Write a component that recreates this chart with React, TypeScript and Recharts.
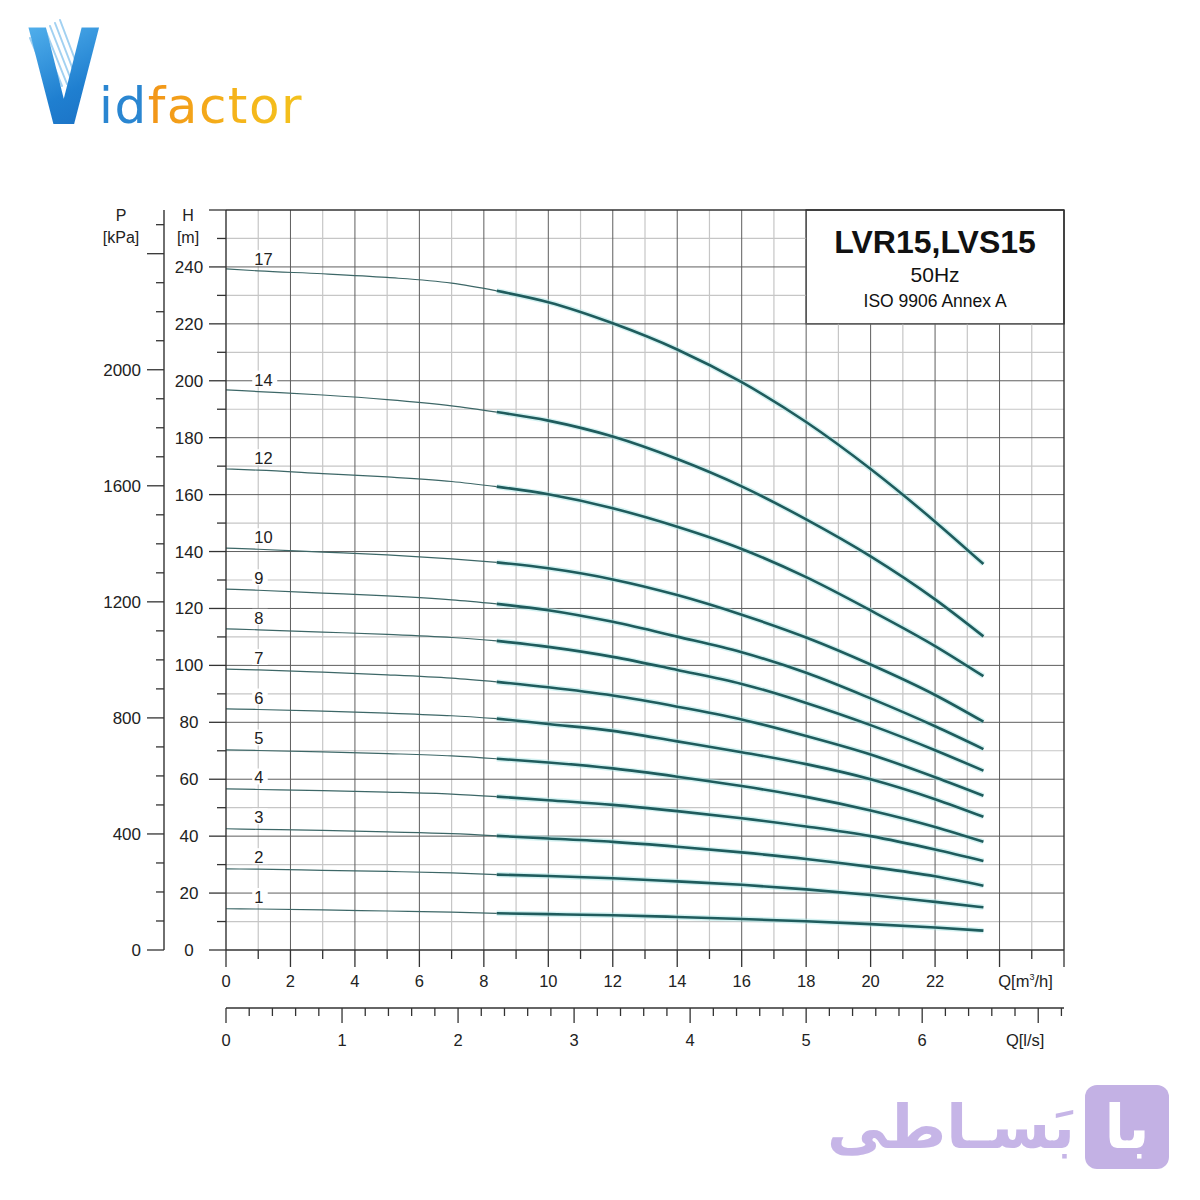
import { LineChart, Line, XAxis, YAxis, ReferenceLine, ReferenceArea } from "recharts"

const qPoints = [0, 1, 3, 5, 7, 8.4, 10, 12, 14, 16, 18, 20, 22, 23.5]
const thinEnd = 5 // index of Q=8.4, where the thick part starts

// head (m) per stage count
const h17 = [239.3, 238.6, 237.6, 236.3, 234.3, 231.6, 227.6, 220.2, 211.0, 199.5, 185.5, 169.0, 150.5, 135.6]
const h14 = [196.8, 196.2, 195.0, 193.4, 191.2, 189.0, 186.0, 180.4, 172.5, 162.9, 151.3, 138.3, 123.2, 110.2]
const h12 = [169.0, 168.6, 167.4, 166.2, 164.6, 162.8, 160.1, 155.2, 148.7, 140.9, 131.0, 119.3, 106.8, 96.2]
const h10 = [141.2, 140.8, 139.8, 138.8, 137.4, 136.2, 134.1, 130.2, 124.7, 117.8, 109.8, 100.3, 89.6, 80.2]
const h9 = [126.8, 126.4, 125.4, 124.4, 123.0, 121.6, 119.4, 115.3, 110.1, 104.6, 97.4, 88.4, 78.6, 70.6]
const h8 = [112.8, 112.5, 111.7, 110.9, 109.8, 108.6, 106.5, 103.0, 98.4, 93.5, 86.8, 79.0, 70.2, 63.0]
const h7 = [98.7, 98.4, 97.6, 96.7, 95.5, 94.2, 92.3, 89.4, 85.5, 81.0, 75.2, 68.7, 60.7, 54.2]
const h6 = [84.7, 84.5, 83.9, 83.2, 82.3, 81.3, 79.4, 77.0, 73.3, 69.5, 65.3, 60.0, 53.0, 46.8]
const h5 = [70.3, 70.1, 69.6, 69.0, 68.2, 67.2, 65.9, 63.8, 60.9, 57.6, 53.8, 49.0, 43.2, 38.0]
const h4 = [56.6, 56.4, 56.0, 55.5, 54.8, 53.9, 52.6, 51.0, 48.8, 46.3, 43.4, 40.0, 35.3, 31.3]
const h3 = [42.6, 42.4, 42.0, 41.5, 40.9, 40.1, 39.2, 38.0, 36.3, 34.3, 32.0, 29.2, 25.9, 22.6]
const h2 = [28.5, 28.4, 28.0, 27.6, 27.1, 26.5, 26.0, 25.2, 24.1, 22.9, 21.3, 19.3, 16.9, 15.0]
const h1 = [14.5, 14.4, 14.1, 13.7, 13.3, 12.9, 12.6, 12.2, 11.6, 10.9, 10.1, 9.1, 7.9, 6.8]

const stageNames = ["17", "14", "12", "10", "9", "8", "7", "6", "5", "4", "3", "2", "1"]
const stageHeads = [h17, h14, h12, h10, h9, h8, h7, h6, h5, h4, h3, h2, h1]

// axis ticks
const hTicks = Array.from({ length: 27 }, (_, i) => i * 10)
const pTicks = Array.from({ length: 26 }, (_, i) => i * 100)
const qTicks = Array.from({ length: 27 }, (_, i) => i)
const lsTicks = Array.from({ length: 37 }, (_, i) => Math.round(i * 2) / 10)
const hMax = 260
const qMax = 26
const kPaPerM = 9.81
const m3hPerLs = 3.6
const boxQ = 18
const boxH = 220

const FONT = "'Liberation Sans', Arial, Helvetica, sans-serif"
const INK = "#222"
const AXIS = "#333"
const GRID_DARK = "#5e5e5e"
const GRID_LIGHT = "#c6c6c6"
const CURVE = "#1f5c5d"

const series = stageNames.map((name, s) => {
  const pts = qPoints.map((q, i) => ({ q, h: stageHeads[s][i] }))
  return { name, thin: pts.slice(0, thinEnd + 1), thick: pts.slice(thinEnd) }
})

// the top curve in l/s and kPa, bound to the secondary axes so they get their ticks
const secondary = qPoints.map((q, i) => ({ ls: q / m3hPerLs, p: h17[i] * kPaPerM }))

function HTick(props: any) {
  const { x, y, payload } = props
  const v = payload.value
  const major = v % 20 === 0
  return (
    <g>
      <line x1={x - (major ? 17 : 9)} x2={x} y1={y} y2={y} stroke={AXIS} strokeWidth={1.3} />
      {major && v <= 240 && (
        <text x={x - 37} y={y + 6} textAnchor="middle" fontSize={17} fill={INK} fontFamily={FONT}>
          {v}
        </text>
      )}
    </g>
  )
}

function PTick(props: any) {
  const { x, y, payload } = props
  const v = payload.value
  const major = v % 400 === 0
  return (
    <g>
      <line x1={x - (major ? 17 : 8)} x2={x} y1={y} y2={y} stroke={AXIS} strokeWidth={1.3} />
      {major && v <= 2000 && (
        <text x={x - 23} y={y + 6} textAnchor="end" fontSize={17} fill={INK} fontFamily={FONT}>
          {v}
        </text>
      )}
    </g>
  )
}

function QTick(props: any) {
  const { x, y, payload } = props
  const v = payload.value
  const major = v % 2 === 0
  return (
    <g>
      <line x1={x} x2={x} y1={y} y2={y + (major ? 17 : 9)} stroke={AXIS} strokeWidth={1.3} />
      {major && v <= 22 && (
        <text x={x} y={y + 37} textAnchor="middle" fontSize={16.5} fill={INK} fontFamily={FONT}>
          {v}
        </text>
      )}
      {v === 24 && (
        <text x={x + 26} y={y + 37} textAnchor="middle" fontSize={16.5} fill={INK} fontFamily={FONT}>
          <tspan>Q[m</tspan>
          <tspan dy={-7} fontSize={9}>3</tspan>
          <tspan dy={7}>/h]</tspan>
        </text>
      )}
    </g>
  )
}

function LsTick(props: any) {
  const { x, y, payload } = props
  const v = payload.value
  const major = Math.abs(v - Math.round(v)) < 1e-6
  return (
    <g>
      <line x1={x} x2={x} y1={y} y2={y + (major ? 15 : 8)} stroke={AXIS} strokeWidth={1.3} />
      {major && v <= 6 && (
        <text x={x} y={y + 38} textAnchor="middle" fontSize={16.5} fill={INK} fontFamily={FONT}>
          {v}
        </text>
      )}
      {major && v === 7 && (
        <text x={x - 13} y={y + 38} textAnchor="middle" fontSize={16.5} fill={INK} fontFamily={FONT}>
          Q[l/s]
        </text>
      )}
    </g>
  )
}

function StageLabel({ cx, cy, text }: { cx: number; cy: number; text: string }) {
  const w = text.length * 9.5 + 6
  return (
    <g>
      <rect x={cx - 6} y={cy - 21} width={w} height={16} fill="#fff" />
      <text x={cx - 4} y={cy - 6} fontSize={16.5} fill={INK} fontFamily={FONT}>
        {text}
      </text>
    </g>
  )
}

function BoxText(props: any) {
  const vb = props.viewBox || {}
  const cx = vb.x + vb.width / 2
  const top = vb.y
  return (
    <g fontFamily={FONT} fill="#111" textAnchor="middle">
      <text x={cx} y={top + 43} fontSize={32} fontWeight="bold">LVR15,LVS15</text>
      <text x={cx} y={top + 72} fontSize={21}>50Hz</text>
      <text x={cx} y={top + 97} fontSize={17.5}>ISO 9906 Annex A</text>
    </g>
  )
}

function Logo() {
  const rays = [0, 1, 2, 3, 4, 5, 6]
  return (
    <div style={{ position: "absolute", left: 0, top: 0, width: 320, height: 140 }}>
      <svg width={320} height={140} style={{ position: "absolute", left: 0, top: 0 }}>
        {rays.map((i) => (
          <line
            key={i}
            x1={30 + i * 5}
            y1={38 - i * 3}
            x2={52 + i * 5}
            y2={90 - i * 2}
            stroke="#8cc6ee"
            strokeWidth={2}
            strokeLinecap="round"
            opacity={0.8}
          />
        ))}
      </svg>
      <div
        style={{
          position: "absolute",
          left: 28,
          top: 12,
          fontFamily: "'DejaVu Sans', sans-serif",
          fontWeight: "bold",
          fontSize: 132,
          lineHeight: 1,
          transform: "scaleX(0.7)",
          transformOrigin: "left top",
          background: "linear-gradient(160deg, #59b7f0 0%, #1f7fd0 60%, #1a6cc0 100%)",
          WebkitBackgroundClip: "text",
          backgroundClip: "text",
          color: "transparent",
        }}
      >
        V
      </div>
      <div
        style={{
          position: "absolute",
          left: 99,
          top: 81,
          fontFamily: "'DejaVu Sans', sans-serif",
          fontSize: 50,
          lineHeight: 1,
          letterSpacing: 1.5,
          whiteSpace: "nowrap",
        }}
      >
        <span style={{ color: "#2a86d1" }}>id</span>
        <span
          style={{
            background: "linear-gradient(90deg, #f29418 0%, #f5b51b 60%, #f3c21d 100%)",
            WebkitBackgroundClip: "text",
            backgroundClip: "text",
            color: "transparent",
          }}
        >
          factor
        </span>
      </div>
    </div>
  )
}

function PersianMark() {
  return (
    <div>
      <div
        style={{
          position: "absolute",
          left: 1085,
          top: 1085,
          width: 84,
          height: 84,
          borderRadius: 12,
          background: "#c3b1e4",
          color: "#fff",
          fontFamily: "'DejaVu Sans', sans-serif",
          fontWeight: "bold",
          fontSize: 60,
          lineHeight: "84px",
          textAlign: "center",
        }}
      >
        با
      </div>
      <div
        dir="rtl"
        style={{
          position: "absolute",
          right: 1200 - 1075,
          top: 1082,
          color: "#c6b5e7",
          fontFamily: "'DejaVu Sans', sans-serif",
          fontWeight: "bold",
          fontSize: 61,
          lineHeight: "90px",
          whiteSpace: "nowrap",
        }}
      >
        بَسـاطی
      </div>
    </div>
  )
}

export default function App() {
  const hMinor = hTicks.filter((h) => h > 0 && h < hMax && h % 20 !== 0)
  const hMajor = hTicks.filter((h) => h > 0 && h < hMax && h % 20 === 0)
  const qMinor = qTicks.filter((q) => q > 0 && q < qMax && q % 2 !== 0)
  const qMajor = qTicks.filter((q) => q > 0 && q < qMax && q % 2 === 0)

  const hLine = (h: number, color: string, width: number) => (
    <ReferenceLine
      key={`h${h}`}
      yAxisId="h"
      segment={[
        { x: 0, y: h },
        { x: h > boxH ? boxQ : qMax, y: h },
      ]}
      stroke={color}
      strokeWidth={width}
    />
  )
  const qLine = (q: number, color: string, width: number) => (
    <ReferenceLine
      key={`q${q}`}
      yAxisId="h"
      segment={[
        { x: q, y: 0 },
        { x: q, y: q > boxQ ? boxH : hMax },
      ]}
      stroke={color}
      strokeWidth={width}
    />
  )

  return (
    <div style={{ position: "absolute", left: 0, top: 0, width: 1200, height: 1200, background: "#fff" }}>
      <LineChart width={1200} height={1200} margin={{ top: 210, right: 136, bottom: 142, left: 0 }}>
        <XAxis
          type="number"
          dataKey="q"
          domain={[0, qMax]}
          ticks={qTicks}
          interval={0}
          height={58}
          tickSize={0}
          tickMargin={0}
          tickLine={false}
          axisLine={{ stroke: AXIS, strokeWidth: 1.4 }}
          tick={<QTick />}
        />
        <XAxis
          xAxisId="ls"
          type="number"
          dataKey="ls"
          domain={[0, qMax / m3hPerLs]}
          allowDataOverflow
          ticks={lsTicks}
          interval={0}
          height={50}
          tickSize={0}
          tickMargin={0}
          tickLine={false}
          axisLine={{ stroke: AXIS, strokeWidth: 1.4 }}
          tick={<LsTick />}
        />
        <YAxis
          yAxisId="h"
          type="number"
          domain={[0, hMax]}
          ticks={hTicks}
          interval={0}
          width={62}
          tickSize={0}
          tickMargin={0}
          tickLine={false}
          axisLine={{ stroke: AXIS, strokeWidth: 1.4 }}
          tick={<HTick />}
        />
        <YAxis
          yAxisId="p"
          type="number"
          domain={[0, hMax * kPaPerM]}
          allowDataOverflow
          ticks={pTicks}
          interval={0}
          width={164}
          tickSize={0}
          tickMargin={0}
          tickLine={false}
          axisLine={{ stroke: AXIS, strokeWidth: 1.4 }}
          tick={<PTick />}
        />

        {hMinor.map((h) => hLine(h, GRID_LIGHT, 1.2))}
        {qMinor.map((q) => qLine(q, GRID_LIGHT, 1.2))}
        {hMajor.map((h) => hLine(h, GRID_DARK, 1))}
        {qMajor.map((q) => qLine(q, GRID_DARK, 1))}
        <ReferenceLine yAxisId="h" y={hMax} stroke={AXIS} strokeWidth={1.4} />
        <ReferenceLine yAxisId="h" x={qMax} stroke={AXIS} strokeWidth={1.4} />
        <ReferenceArea
          yAxisId="h"
          x1={boxQ}
          x2={qMax}
          y1={boxH}
          y2={hMax}
          fill="#fff"
          fillOpacity={1}
          stroke={AXIS}
          strokeWidth={1.4}
          label={<BoxText />}
        />

        <Line
          xAxisId="ls"
          yAxisId="p"
          data={secondary}
          dataKey="p"
          type="monotone"
          stroke="none"
          dot={false}
          activeDot={false}
          isAnimationActive={false}
        />

        {series.map((s) => (
          <Line
            key={`halo${s.name}`}
            yAxisId="h"
            data={s.thick}
            dataKey="h"
            type="monotone"
            stroke="#a9e6e6"
            strokeOpacity={0.5}
            strokeWidth={5.5}
            dot={false}
            activeDot={false}
            isAnimationActive={false}
          />
        ))}
        {series.map((s) => (
          <Line
            key={`thick${s.name}`}
            yAxisId="h"
            data={s.thick}
            dataKey="h"
            type="monotone"
            stroke={CURVE}
            strokeWidth={2.6}
            dot={false}
            activeDot={false}
            isAnimationActive={false}
          />
        ))}
        {series.map((s) => (
          <Line
            key={`thin${s.name}`}
            yAxisId="h"
            data={s.thin}
            dataKey="h"
            type="monotone"
            stroke="#3d6767"
            strokeWidth={1.2}
            activeDot={false}
            isAnimationActive={false}
            dot={(p: any) =>
              p.index === 1 ? (
                <StageLabel key={`lab${s.name}`} cx={p.cx} cy={p.cy} text={s.name} />
              ) : (
                <g key={`d${s.name}${p.index}`} />
              )
            }
          />
        ))}
      </LineChart>

      <div style={{ position: "absolute", left: 0, top: 0, width: 1200, height: 1200, pointerEvents: "none", fontFamily: FONT, color: INK }}>
        <div style={{ position: "absolute", left: 101, top: 205, width: 40, textAlign: "center", fontSize: 16, lineHeight: "22px" }}>
          P<br />[kPa]
        </div>
        <div style={{ position: "absolute", left: 168, top: 205, width: 40, textAlign: "center", fontSize: 16, lineHeight: "22px" }}>
          H<br />[m]
        </div>
      </div>
      <Logo />
      <PersianMark />
    </div>
  )
}
